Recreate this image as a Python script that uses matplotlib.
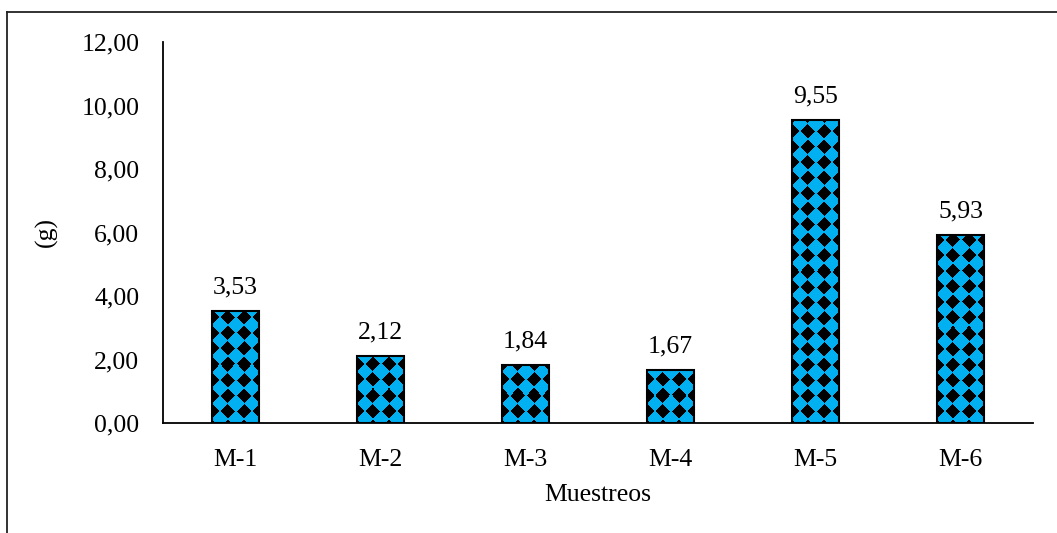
import numpy as np
import matplotlib.pyplot as plt
from matplotlib.lines import Line2D

muestreos = ['M-1', 'M-2', 'M-3', 'M-4', 'M-5', 'M-6']
masa = [3.53, 2.12, 1.84, 1.67, 9.55, 5.93]
yticks = [0, 2, 4, 6, 8, 10, 12]

plt.rcParams['font.family'] = ['Liberation Serif', 'DejaVu Serif']
fs = 18.5

fig = plt.figure(figsize=(10.57, 5.33), dpi=100)
ax = fig.add_axes([0.1542, 0.2064, 0.8231, 0.7148])
x = np.arange(len(muestreos))
ax.set_xlim(-0.5, len(muestreos) - 0.5)
ax.set_ylim(0, 12)

bars = ax.bar(x, masa, 0.32, facecolor='none', edgecolor='black',
              linewidth=1.5, zorder=3)

# pattern fill: blue rounded cells with black diamonds at the corners
blue = np.array([0, 176, 240]) / 255.0
period = 15.5
rad = 8.1
dia = 7.3
for b in bars:
    (x0, y0), (x1, y1) = ax.transData.transform(
        [[b.get_x(), 0], [b.get_x() + b.get_width(), b.get_height()]])
    w = max(int(round(x1 - x0)), 1)
    h = max(int(round(y1 - y0)), 1)
    X, Y = np.meshgrid(np.arange(w) + 0.5, np.arange(h) + 0.5)
    cx = np.mod(X - 8.0, period)
    cx = np.minimum(cx, period - cx)
    cy = np.mod(Y - 4.0, period)
    cy = np.minimum(cy, period - cy)
    in_circle = (cx ** 2 + cy ** 2) < rad ** 2
    in_diamond = (period / 2 - cx) + (period / 2 - cy) < dia
    tex = np.zeros((h, w, 3))
    tex[in_circle & ~in_diamond] = blue
    im = ax.imshow(tex, extent=(b.get_x(), b.get_x() + b.get_width(), 0, b.get_height()),
                   origin='lower', interpolation='nearest', aspect='auto', zorder=2)
    im.set_clip_path(b)

ax.set_xlim(-0.5, len(muestreos) - 0.5)
ax.set_ylim(0, 12)

for xi, v in zip(x, masa):
    ax.annotate(f"{v:.2f}".replace('.', ','), (xi, v), xytext=(0, 9),
                textcoords='offset points', ha='center', va='bottom', fontsize=fs)

ax.set_xticks(x)
ax.set_xticklabels(muestreos)
ax.set_yticks(yticks)
ax.set_yticklabels([f"{v:.2f}".replace('.', ',') for v in yticks])
ax.tick_params(axis='both', length=0, labelsize=fs)
ax.tick_params(axis='x', pad=19)
ax.tick_params(axis='y', pad=17)

for s in ['top', 'right']:
    ax.spines[s].set_visible(False)
for s in ['left', 'bottom']:
    ax.spines[s].set_linewidth(1.3)
    ax.spines[s].set_color('black')

ax.set_xlabel('Muestreos', fontsize=fs, labelpad=9)
ax.set_ylabel('(g)', fontsize=fs, labelpad=17)

# outer frame (partially visible)
fx = 6.5 / 1057
fy = 1 - 11.5 / 533
fig.add_artist(Line2D([fx, fx], [0, fy], transform=fig.transFigure, color='#222222', lw=1.3))
fig.add_artist(Line2D([fx, 1], [fy, fy], transform=fig.transFigure, color='#222222', lw=1.3))

fig.savefig('out.png', dpi=100)
